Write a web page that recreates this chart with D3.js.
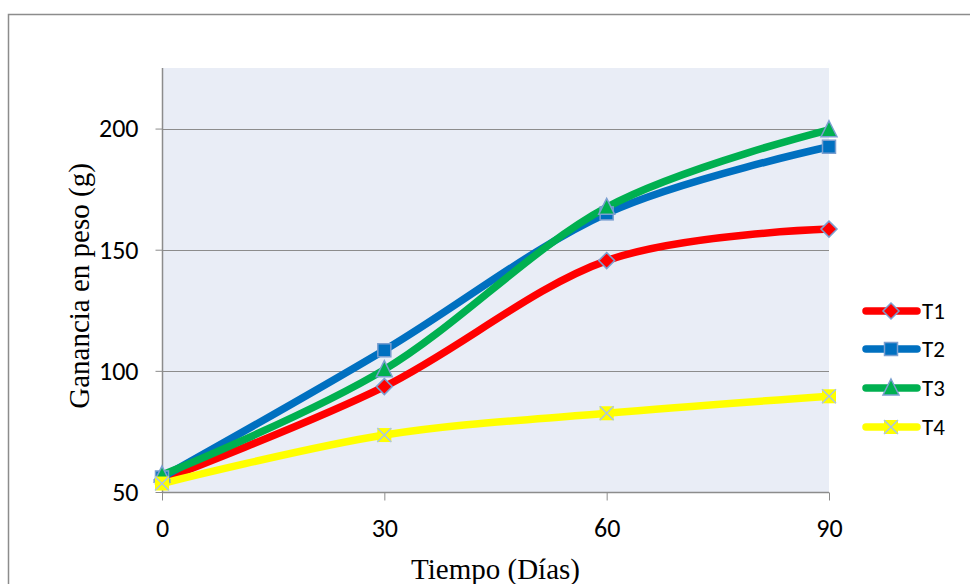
<!DOCTYPE html>
<html>
<head>
<meta charset="utf-8">
<script src="https://cdn.jsdelivr.net/npm/d3@7"></script>
<style>
  html, body { margin: 0; padding: 0; background: #fff; }
  svg { display: block; }
</style>
</head>
<body>
<svg id="chart" width="970" height="584"></svg>
<script>
// Weight gain over time for four treatments
const days = [0, 30, 60, 90];
const t1 = [55, 93.5, 145.5, 158.5];
const t2 = [56, 108.5, 165, 192.5];
const t3 = [57, 100.5, 167.5, 199.5];
const t4 = [53.5, 73.5, 82.5, 89.5];
const seriesNames = ["T1", "T2", "T3", "T4"];
const seriesColors = ["#ff0000", "#0070c0", "#00b050", "#ffff00"];
const markerShapes = ["diamond", "square", "triangle", "cross"];
const yTicks = [50, 100, 150, 200];

const series = [t1, t2, t3, t4].map((vals, i) => ({
  name: seriesNames[i], color: seriesColors[i], shape: markerShapes[i],
  points: days.map((d, j) => ({ x: d, y: vals[j] }))
}));

const sans = "Carlito, 'Open Sans', 'Liberation Sans', sans-serif";
const serif = "'Liberation Serif', 'Times New Roman', serif";

const svg = d3.select("#chart");

// outer chart frame
svg.append("rect")
  .attr("x", 8.5).attr("y", 14.5).attr("width", 980).attr("height", 600)
  .attr("fill", "#fff").attr("stroke", "#8c8c8c").attr("stroke-width", 1.5);

const plot = { left: 162, right: 829, top: 68, bottom: 492 };
const x = d3.scaleLinear().domain([0, 90]).range([plot.left, plot.right]);
const y = d3.scaleLinear().domain([50, 225]).range([plot.bottom, plot.top]);

// plot background
svg.append("rect")
  .attr("x", plot.left).attr("y", plot.top)
  .attr("width", plot.right - plot.left).attr("height", plot.bottom - plot.top)
  .attr("fill", "#e9edf6");

// horizontal gridlines
svg.append("g").selectAll("line").data(yTicks.filter(v => v > 50)).join("line")
  .attr("x1", plot.left).attr("x2", plot.right)
  .attr("y1", d => Math.round(y(d)) + 0.5).attr("y2", d => Math.round(y(d)) + 0.5)
  .attr("stroke", "#8c8c8c").attr("stroke-width", 1);

// y axis
const yAxis = svg.append("g")
  .attr("transform", `translate(${plot.left + 0.5},0)`)
  .call(d3.axisLeft(y).tickValues(yTicks).tickSize(7).tickPadding(17));
yAxis.select(".domain").attr("stroke", "#8c8c8c").attr("stroke-width", 1.5)
  .attr("d", `M0,${plot.top}V${plot.bottom}`);
yAxis.selectAll(".tick line").attr("stroke", "#8c8c8c");
yAxis.selectAll(".tick text")
  .attr("font-family", sans).attr("font-size", 26).attr("fill", "#000");

// x axis
const xAxis = svg.append("g")
  .attr("transform", `translate(0,${plot.bottom + 0.5})`)
  .call(d3.axisBottom(x).tickValues(days).tickSize(8).tickPadding(18));
xAxis.select(".domain").attr("stroke", "#8c8c8c").attr("stroke-width", 1.5)
  .attr("d", `M${plot.left},0H${plot.right}`);
xAxis.selectAll(".tick line").attr("stroke", "#8c8c8c");
xAxis.selectAll(".tick text")
  .attr("font-family", sans).attr("font-size", 26).attr("fill", "#000");

// axis titles
svg.append("text")
  .attr("x", (plot.left + plot.right) / 2).attr("y", 579)
  .attr("text-anchor", "middle")
  .attr("font-family", serif).attr("font-size", 29).attr("fill", "#000")
  .text("Tiempo (Días)");
svg.append("text")
  .attr("transform", `translate(89,${(plot.top + plot.bottom) / 2 + 6}) rotate(-90)`)
  .attr("text-anchor", "middle")
  .attr("font-family", serif).attr("font-size", 29).attr("fill", "#000")
  .text("Ganancia en peso (g)");

// marker drawing
const markerStroke = "#7a9fd0";
function drawMarker(g, shape, color, cx, cy) {
  if (shape === "diamond") {
    const r = 8;
    g.append("path").attr("d", `M${cx},${cy - r}L${cx + r},${cy}L${cx},${cy + r}L${cx - r},${cy}Z`)
      .attr("fill", color).attr("stroke", markerStroke).attr("stroke-width", 1.5);
  } else if (shape === "square") {
    const r = 6.5;
    g.append("rect").attr("x", cx - r).attr("y", cy - r).attr("width", 2 * r).attr("height", 2 * r)
      .attr("fill", color).attr("stroke", markerStroke).attr("stroke-width", 1.5);
  } else if (shape === "triangle") {
    const r = 8;
    g.append("path").attr("d", `M${cx},${cy - r - 1}L${cx + r},${cy + r - 1}L${cx - r},${cy + r - 1}Z`)
      .attr("fill", color).attr("stroke", markerStroke).attr("stroke-width", 1.5);
  } else {
    const r = 7;
    g.append("rect").attr("x", cx - r).attr("y", cy - r).attr("width", 2 * r).attr("height", 2 * r)
      .attr("fill", color);
    g.append("path").attr("d", `M${cx - r},${cy - r}L${cx + r},${cy + r}M${cx + r},${cy - r}L${cx - r},${cy + r}`)
      .attr("stroke", "#a9c4e4").attr("stroke-width", 1.5).attr("fill", "none");
  }
}

// smoothed lines
const line = d3.line().x(d => x(d.x)).y(d => y(d.y)).curve(d3.curveCatmullRom.alpha(0));
const linesG = svg.append("g");
series.forEach(s => {
  linesG.append("path").datum(s.points)
    .attr("d", line).attr("fill", "none")
    .attr("stroke", s.color).attr("stroke-width", 7.5)
    .attr("stroke-linecap", "round").attr("stroke-linejoin", "round");
});
// markers drawn above all lines
const markersG = svg.append("g");
series.forEach(s => {
  s.points.forEach(p => drawMarker(markersG, s.shape, s.color, x(p.x), y(p.y)));
});

// legend
const legendY = [311, 349, 388, 427];
const legend = svg.append("g");
series.forEach((s, i) => {
  const ly = legendY[i];
  legend.append("line").attr("x1", 866).attr("x2", 917).attr("y1", ly).attr("y2", ly)
    .attr("stroke", s.color).attr("stroke-width", 7.5).attr("stroke-linecap", "round");
  drawMarker(legend, s.shape, s.color, 891, ly);
  legend.append("text").attr("x", 922).attr("y", ly + 8)
    .attr("font-family", sans).attr("font-size", 23).attr("fill", "#000").text(s.name);
});
</script>
</body>
</html>
